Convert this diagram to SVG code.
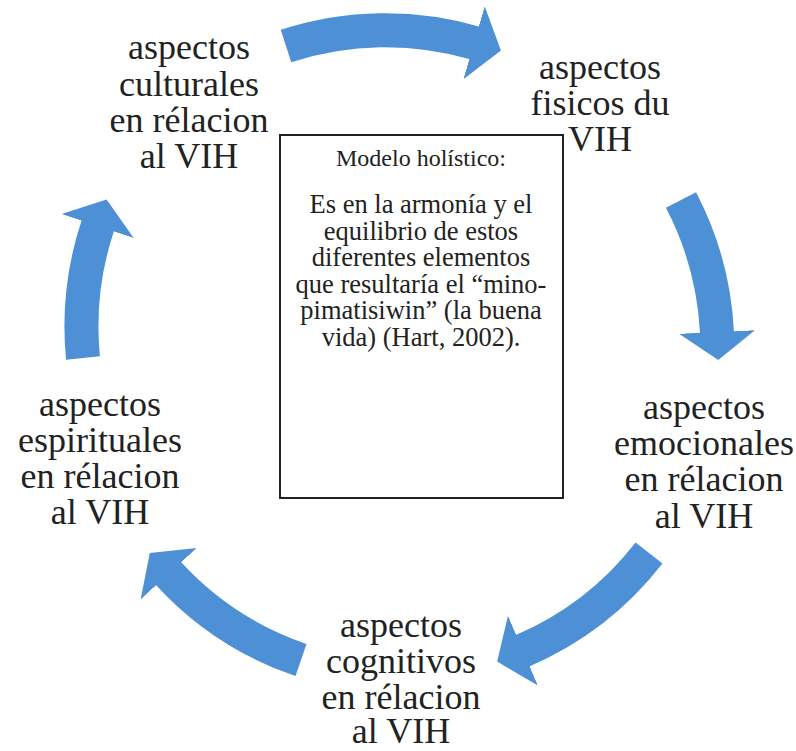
<svg xmlns="http://www.w3.org/2000/svg" width="796" height="751" viewBox="0 0 796 751">
<style>
text{font-family:"Liberation Serif","Times New Roman",serif;fill:#222;text-anchor:middle}
.lbl{font-size:36px}
.ttl{font-size:24px}
.bdy{font-size:26.5px}
.arc{fill:none;stroke:#4D90D6;stroke-width:34;stroke-linecap:butt;marker-end:url(#head)}
</style>
<defs>
<marker id="head" markerUnits="userSpaceOnUse" markerWidth="30" markerHeight="80" viewBox="0 0 30 80" refX="1" refY="40" orient="auto">
<path d="M0,2 L28,40 L0,78 Z" fill="#4D90D6"/>
</marker>
</defs>
<rect width="796" height="751" fill="#fff"/>
<g id="connectors">
<path class="arc" d="M286,46 A320,320 0 0 1 475,43"/>
<path class="arc" d="M681,200 A320,320 0 0 1 717,333"/>
<path class="arc" d="M649,553 A320,320 0 0 1 522,651"/>
<path class="arc" d="M301,660 A320,320 0 0 1 168,573"/>
<path class="arc" d="M83,358 A320,320 0 0 1 98,225"/>
</g>
<g id="center">
<rect x="280" y="135" width="283" height="363" fill="#fff" stroke="#222" stroke-width="2"/>
<text class="ttl" x="421" y="166">Modelo holístico:</text>
<text class="bdy" x="421" y="213">Es en la armonía y el</text>
<text class="bdy" x="421" y="240">equilibrio de estos</text>
<text class="bdy" x="421" y="266">diferentes elementos</text>
<text class="bdy" x="421" y="293">que resultaría el “mino-</text>
<text class="bdy" x="421" y="319">pimatisiwin” (la buena</text>
<text class="bdy" x="421" y="346">vida) (Hart, 2002).</text>
</g>
<g id="culturales">
<text class="lbl" x="189" y="59">aspectos</text>
<text class="lbl" x="189" y="96">culturales</text>
<text class="lbl" x="189" y="132">en rélacion</text>
<text class="lbl" x="189" y="168">al VIH</text>
</g>
<g id="fisicos">
<text class="lbl" x="600" y="79">aspectos</text>
<text class="lbl" x="600" y="115">fisicos du</text>
<text class="lbl" x="600" y="151">VIH</text>
</g>
<g id="emocionales">
<text class="lbl" x="704" y="419">aspectos</text>
<text class="lbl" x="704" y="455">emocionales</text>
<text class="lbl" x="704" y="491">en rélacion</text>
<text class="lbl" x="704" y="528">al VIH</text>
</g>
<g id="cognitivos">
<text class="lbl" x="401" y="637">aspectos</text>
<text class="lbl" x="401" y="673">cognitivos</text>
<text class="lbl" x="401" y="709">en rélacion</text>
<text class="lbl" x="401" y="743">al VIH</text>
</g>
<g id="espirituales">
<text class="lbl" x="100" y="416">aspectos</text>
<text class="lbl" x="100" y="452">espirituales</text>
<text class="lbl" x="100" y="488">en rélacion</text>
<text class="lbl" x="100" y="524">al VIH</text>
</g>
</svg>
